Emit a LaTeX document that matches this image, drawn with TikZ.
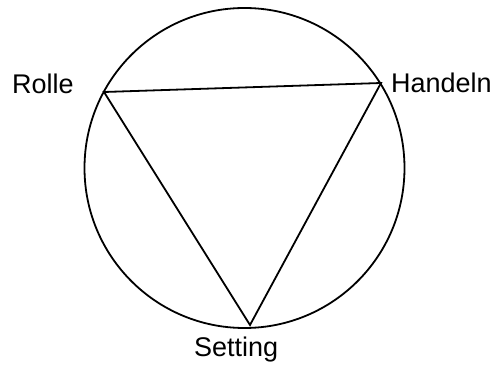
\documentclass[tikz,border=0pt]{standalone}
\usepackage{fontspec}
\setmainfont{Liberation Sans}
\begin{document}
\begin{tikzpicture}[x=1pt,y=-1pt,
  lbl/.style={inner sep=0pt,anchor=base west,font=\fontsize{27}{32}\selectfont},
  edge/.style={line width=1.8pt}]
\useasboundingbox (0,0) rectangle (496,366);
\node[circle,draw,line width=1.8pt,minimum size=320pt,inner sep=0pt] (c) at (244.5,168) {};
\coordinate (r) at (104,92);
\coordinate (h) at (381,83);
\coordinate (s) at (250,325);
\draw[edge,line join=miter] (r) -- (h) -- (s) -- cycle;
\node[lbl] (tr) at (12,94) {Rolle};
\node[lbl] (th) at (391,93) {Handeln};
\node[lbl] (ts) at (194,357) {Setting};
\end{tikzpicture}
\end{document}
